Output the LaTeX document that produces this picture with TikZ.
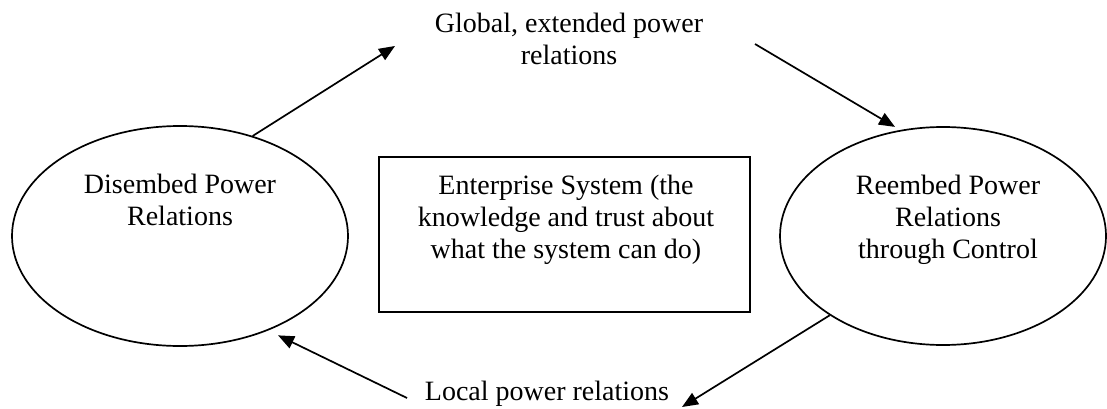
\documentclass[tikz,border=0pt]{standalone}
\usepackage{fontspec}
\setmainfont{Liberation Serif}
\usetikzlibrary{arrows.meta,shapes.geometric}
\begin{document}
\begin{tikzpicture}[x=1pt,y=-1pt,
  lbl/.style={align=center,inner sep=0pt,anchor=base,font=\fontsize{28}{32}\selectfont},
  oval/.style={ellipse,draw,line width=1.7pt,inner sep=0pt},
  conn/.style={line width=1.7pt,-{Triangle[length=16pt,width=13pt]}}]
\useasboundingbox (0,0) rectangle (1107,409);
\node[oval,minimum width=336pt,minimum height=220pt] (L) at (180,236) {};
\node[oval,minimum width=326pt,minimum height=218pt] (R) at (943,236) {};
\node[draw,line width=1.7pt,minimum width=371pt,minimum height=155pt,inner sep=0pt] (B) at (564.5,234.5) {};
\node[lbl] (Lt) at (180,225) {Disembed Power\\Relations};
\node[lbl] (Rt) at (948,258) {Reembed Power\\Relations\\through Control};
\node[lbl] (Bt) at (566,258) {Enterprise System (the\\knowledge and trust about\\what the system can do)};
\node[lbl] (G) at (569,65) {Global, extended power\\relations};
\node[lbl] (Lo) at (547,400) {Local power relations};
\coordinate (g1) at (395,46);
\coordinate (g2) at (755,44);
\coordinate (l1) at (407,398);
\coordinate (l2) at (682,407);
\draw[conn] (L.54) -- (g1);
\draw[conn,shorten >=6pt] (g2) -- (R.112);
\draw[conn] (R.215) -- (l2);
\draw[conn,shorten >=11pt] (l1) -- (L.-47);
\end{tikzpicture}
\end{document}
